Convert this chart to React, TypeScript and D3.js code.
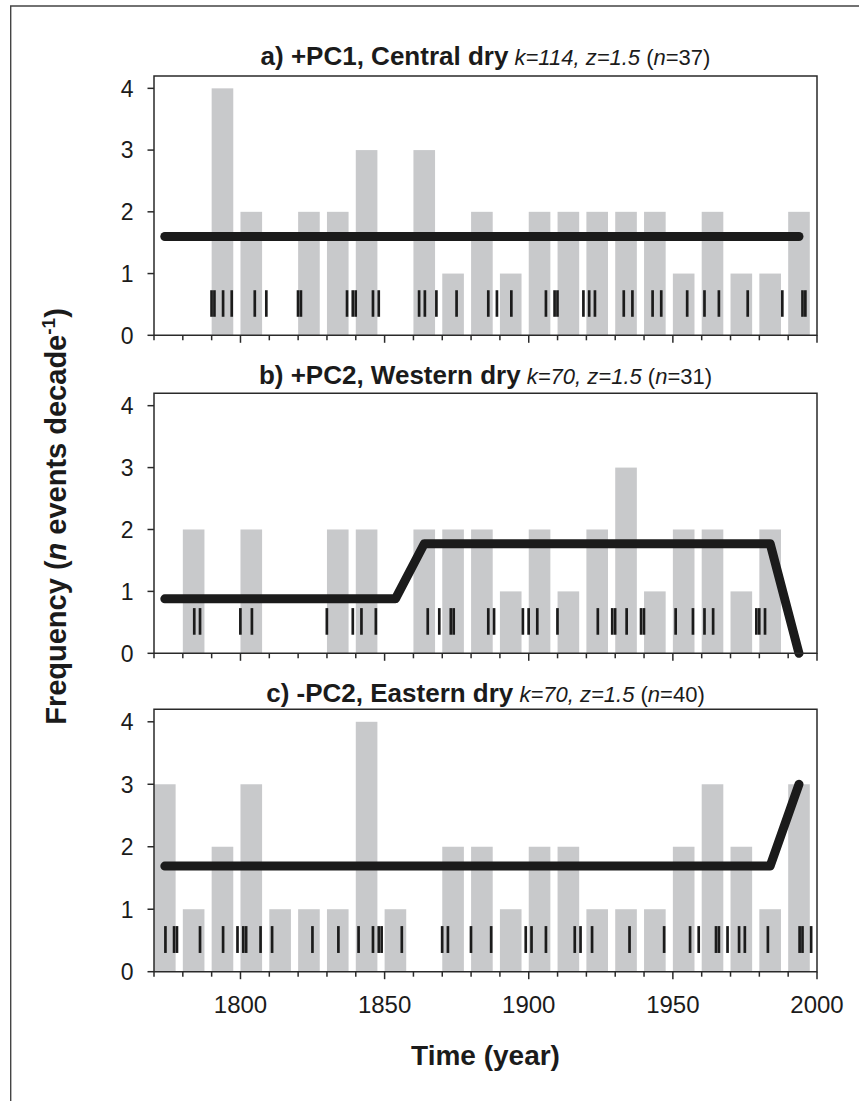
import React from "react";
import * as d3 from "d3";

const decades = [1770,1780,1790,1800,1810,1820,1830,1840,1850,1860,1870,1880,1890,1900,1910,1920,1930,1940,1950,1960,1970,1980,1990];

const countsA = [0,0,4,2,0,2,2,3,0,3,1,2,1,2,2,2,2,2,1,2,1,1,2];
const countsB = [0,2,0,2,0,0,2,2,0,2,2,2,1,2,1,2,3,1,2,2,1,2,0];
const countsC = [3,1,2,3,1,1,1,4,1,0,2,2,1,2,2,1,1,1,2,3,2,1,3];

const eventsA = [1790,1791,1794,1797,1805,1809,1820,1821,1837,1839,1840,1846,1848,1862,1864,1868,1875,1886,1889,1894,1906,1909,1910,1919,1921,1923,1933,1936,1943,1946,1955,1961,1966,1976,1988,1995,1996];
const eventsB = [1784,1786,1800,1804,1830,1839,1842,1847,1865,1869,1873,1874,1886,1888,1898,1900,1903,1910,1924,1929,1930,1934,1939,1940,1951,1957,1961,1964,1979,1980,1982];
const eventsC = [1774,1777,1778,1786,1794,1799,1801,1802,1807,1811,1825,1834,1841,1846,1848,1849,1856,1870,1872,1880,1887,1899,1901,1906,1916,1918,1922,1935,1947,1956,1959,1965,1966,1969,1973,1975,1983,1994,1995,1998];

const lineDecadesA = [1770,1990];
const lineValuesA = [1.6,1.6];
const lineDecadesB = [1770,1850,1860,1980,1990];
const lineValuesB = [0.88,0.88,1.77,1.77,0];
const lineDecadesC = [1770,1980,1990];
const lineValuesC = [1.69,1.69,3.0];

const titlesBold = ["a) +PC1, Central dry","b) +PC2, Western dry","c) -PC2, Eastern dry"];
const titlesK = ["k=114, z=1.5","k=70, z=1.5","k=70, z=1.5"];
const titlesN = ["37","31","40"];

const yTicks = [0,1,2,3,4];
const xMajorTicks = [1800,1850,1900,1950,2000];
const xMinorTicks = d3.range(1770,2001,10);

const FONT = "'Liberation Sans', Arial, Helvetica, sans-serif";
const INK = "#1b1b1b";
const BAR = "#c8c9cb";

const LEFT = 154;
const RIGHT = 817;
const panels = [
  { top: 76, bottom: 335.3, titleY: 65, counts: countsA, events: eventsA, ld: lineDecadesA, lv: lineValuesA },
  { top: 393.3, bottom: 653.3, titleY: 383.5, counts: countsB, events: eventsB, ld: lineDecadesB, lv: lineValuesB },
  { top: 709.3, bottom: 971.7, titleY: 701.5, counts: countsC, events: eventsC, ld: lineDecadesC, lv: lineValuesC },
];

const x = d3.scaleLinear().domain([1770, 2000]).range([LEFT, RIGHT]);
const BAR_W = 7.5;
const BAR_C = 3.75;

function Panel({ p, i }: { p: any; i: number }) {
  const y = d3.scaleLinear().domain([0, 4.2]).range([p.bottom, p.top]);
  const line = d3
    .line<number>()
    .x((_, k) => x(p.ld[k] + BAR_C))
    .y((v) => y(v));
  const cx = (LEFT + RIGHT) / 2;
  const tickW = x(1771) - x(1770);
  return (
    <g>
      {decades.map((d, k) =>
        p.counts[k] > 0 ? (
          <rect
            key={"b" + k}
            x={x(d)}
            y={y(p.counts[k])}
            width={x(d + BAR_W) - x(d)}
            height={y(0) - y(p.counts[k])}
            fill={BAR}
          />
        ) : null
      )}
      {p.events.map((e: number, k: number) => (
        <rect
          key={"e" + k}
          x={x(e) - tickW / 2}
          y={y(0.73)}
          width={tickW - 0.2}
          height={y(0.3) - y(0.73)}
          fill={INK}
        />
      ))}
      <path
        d={line(p.lv) || ""}
        fill="none"
        stroke={INK}
        strokeWidth={9}
        strokeLinecap="round"
        strokeLinejoin="round"
      />
      <path
        d={`M${LEFT},${p.bottom}V${p.top}H${RIGHT}V${p.bottom}H${LEFT}`}
        fill="none"
        stroke="#2a2a2a"
        strokeWidth={1.5}
      />
      {yTicks.map((t) => (
        <g key={"y" + t}>
          <line x1={LEFT - 6.5} x2={LEFT} y1={y(t)} y2={y(t)} stroke="#2a2a2a" strokeWidth={1.5} />
          <text
            x={133.5}
            y={y(t)}
            dy="0.36em"
            textAnchor="end"
            fontFamily={FONT}
            fontSize={23}
            fill={INK}
          >
            {t}
          </text>
        </g>
      ))}
      {xMinorTicks.map((t) => (
        <line
          key={"xm" + t}
          x1={x(t)}
          x2={x(t)}
          y1={p.bottom}
          y2={p.bottom + (xMajorTicks.includes(t) ? 7.5 : 5)}
          stroke="#2a2a2a"
          strokeWidth={1.5}
        />
      ))}
      {i === 2 &&
        xMajorTicks.map((t) => (
          <text
            key={"xl" + t}
            x={x(t)}
            y={1013}
            textAnchor="middle"
            fontFamily={FONT}
            fontSize={24}
            fill={INK}
          >
            {t}
          </text>
        ))}
      <text x={cx} y={p.titleY} textAnchor="middle" fontFamily={FONT} fill={INK}>
        <tspan fontWeight="bold" fontSize={26}>{titlesBold[i]}</tspan>
        <tspan fontSize={22} fontStyle="italic">{" " + titlesK[i] + " "}</tspan>
        <tspan fontSize={22}>(</tspan>
        <tspan fontSize={22} fontStyle="italic">n</tspan>
        <tspan fontSize={22}>{"=" + titlesN[i] + ")"}</tspan>
      </text>
    </g>
  );
}

export default function App() {
  return (
    <svg
      width={859}
      height={1101}
      viewBox="0 0 859 1101"
      style={{ position: "absolute", left: 0, top: 0, background: "#fff" }}
    >
      <rect x={0} y={0} width={859} height={1101} fill="#fff" />
      <path d="M10.7,1101V6H859" fill="none" stroke="#444" strokeWidth={1.4} />
      {panels.map((p, i) => (
        <Panel key={i} p={p} i={i} />
      ))}
      <text
        transform="translate(66,516.5) rotate(-90)"
        textAnchor="middle"
        fontFamily={FONT}
        fontWeight="bold"
        fontSize={29}
        fill={INK}
      >
        Frequency (<tspan fontStyle="italic">n</tspan> events decade
        <tspan fontSize={19} dy={-11}>-1</tspan>
        <tspan dy={11}>)</tspan>
      </text>
      <text
        x={(LEFT + RIGHT) / 2}
        y={1065}
        textAnchor="middle"
        fontFamily={FONT}
        fontWeight="bold"
        fontSize={28}
        fill={INK}
      >
        Time (year)
      </text>
    </svg>
  );
}
